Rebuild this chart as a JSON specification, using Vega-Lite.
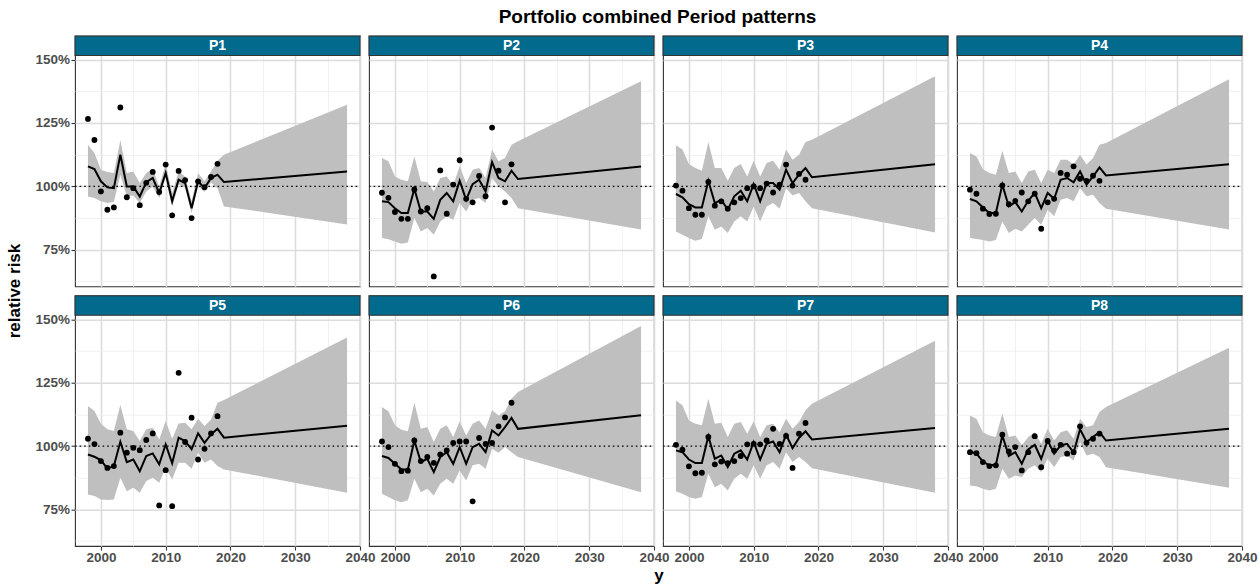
{
  "$schema": "https://vega.github.io/schema/vega-lite/v6.json",
  "background": "white",
  "padding": {"left": 5, "top": 7, "right": 18, "bottom": 0},
  "bounds": "flush",
  "title": {"text": "Portfolio combined Period patterns", "font": "Liberation Sans", "fontSize": 19, "fontWeight": "bold", "color": "black", "anchor": "middle", "offset": 8, "dx": 26},
  "datasets": {
    "rr": [
      {"panel":"P1","year":1998,"fit":107.9,"lower":96.0,"upper":116.4,"observed":126.6},
      {"panel":"P1","year":1999,"fit":106.8,"lower":95.4,"upper":113.2,"observed":118.3},
      {"panel":"P1","year":2000,"fit":102.0,"lower":94.1,"upper":106.6,"observed":98.0},
      {"panel":"P1","year":2001,"fit":99.6,"lower":93.4,"upper":105.7,"observed":90.8},
      {"panel":"P1","year":2002,"fit":99.3,"lower":93.8,"upper":105.3,"observed":91.7},
      {"panel":"P1","year":2003,"fit":112.5,"lower":104.6,"upper":118.2,"observed":131.1},
      {"panel":"P1","year":2004,"fit":100.0,"lower":96.1,"upper":105.3,"observed":95.7},
      {"panel":"P1","year":2005,"fit":100.0,"lower":96.4,"upper":105.9,"observed":99.3},
      {"panel":"P1","year":2006,"fit":96.0,"lower":93.4,"upper":101.3,"observed":92.6},
      {"panel":"P1","year":2007,"fit":101.7,"lower":98.0,"upper":105.3,"observed":101.4},
      {"panel":"P1","year":2008,"fit":103.3,"lower":100.0,"upper":107.0,"observed":105.7},
      {"panel":"P1","year":2009,"fit":97.4,"lower":95.4,"upper":100.0,"observed":97.8},
      {"panel":"P1","year":2010,"fit":105.3,"lower":103.3,"upper":108.8,"observed":108.6},
      {"panel":"P1","year":2011,"fit":94.1,"lower":92.1,"upper":97.4,"observed":88.6},
      {"panel":"P1","year":2012,"fit":102.6,"lower":100.8,"upper":105.9,"observed":106.1},
      {"panel":"P1","year":2013,"fit":101.3,"lower":99.5,"upper":103.9,"observed":102.5},
      {"panel":"P1","year":2014,"fit":91.4,"lower":89.5,"upper":94.1,"observed":87.5},
      {"panel":"P1","year":2015,"fit":102.0,"lower":100.0,"upper":105.3,"observed":102.0},
      {"panel":"P1","year":2016,"fit":99.3,"lower":97.8,"upper":102.0,"observed":99.7},
      {"panel":"P1","year":2017,"fit":103.3,"lower":101.5,"upper":105.9,"observed":103.7},
      {"panel":"P1","year":2018,"fit":104.6,"lower":99.3,"upper":110.1,"observed":108.9},
      {"panel":"P1","year":2019,"fit":101.7,"lower":92.1,"upper":112.5,"observed":null},
      {"panel":"P1","year":2038,"fit":105.9,"lower":85.0,"upper":132.2,"observed":null},

      {"panel":"P2","year":1998,"fit":94.1,"lower":79.6,"upper":111.2,"observed":97.5},
      {"panel":"P2","year":1999,"fit":93.8,"lower":79.2,"upper":109.9,"observed":95.5},
      {"panel":"P2","year":2000,"fit":91.4,"lower":78.3,"upper":103.9,"observed":89.9},
      {"panel":"P2","year":2001,"fit":89.5,"lower":77.4,"upper":102.6,"observed":87.2},
      {"panel":"P2","year":2002,"fit":89.5,"lower":77.9,"upper":102.0,"observed":87.2},
      {"panel":"P2","year":2003,"fit":99.1,"lower":87.5,"upper":111.8,"observed":98.8},
      {"panel":"P2","year":2004,"fit":90.1,"lower":82.2,"upper":102.0,"observed":90.1},
      {"panel":"P2","year":2005,"fit":90.1,"lower":83.6,"upper":101.7,"observed":91.4},
      {"panel":"P2","year":2006,"fit":87.2,"lower":80.9,"upper":98.0,"observed":64.5},
      {"panel":"P2","year":2007,"fit":94.7,"lower":86.2,"upper":103.3,"observed":106.3},
      {"panel":"P2","year":2008,"fit":97.4,"lower":88.2,"upper":103.9,"observed":89.2},
      {"panel":"P2","year":2009,"fit":94.1,"lower":86.8,"upper":100.4,"observed":100.7},
      {"panel":"P2","year":2010,"fit":102.2,"lower":93.4,"upper":107.9,"observed":110.3},
      {"panel":"P2","year":2011,"fit":94.7,"lower":90.1,"upper":101.3,"observed":95.1},
      {"panel":"P2","year":2012,"fit":100.9,"lower":94.7,"upper":106.6,"observed":93.7},
      {"panel":"P2","year":2013,"fit":102.6,"lower":95.4,"upper":107.2,"observed":104.1},
      {"panel":"P2","year":2014,"fit":98.0,"lower":93.4,"upper":103.3,"observed":96.1},
      {"panel":"P2","year":2015,"fit":109.6,"lower":103.3,"upper":114.5,"observed":123.2},
      {"panel":"P2","year":2016,"fit":103.3,"lower":100.0,"upper":109.9,"observed":106.2},
      {"panel":"P2","year":2017,"fit":102.0,"lower":98.0,"upper":111.2,"observed":93.7},
      {"panel":"P2","year":2018,"fit":106.2,"lower":95.4,"upper":116.4,"observed":108.7},
      {"panel":"P2","year":2019,"fit":102.9,"lower":91.4,"upper":117.8,"observed":null},
      {"panel":"P2","year":2038,"fit":107.8,"lower":83.0,"upper":141.5,"observed":null},

      {"panel":"P3","year":1998,"fit":97.0,"lower":82.2,"upper":116.2,"observed":100.3},
      {"panel":"P3","year":1999,"fit":95.7,"lower":80.9,"upper":114.5,"observed":98.3},
      {"panel":"P3","year":2000,"fit":93.0,"lower":79.6,"upper":108.8,"observed":91.4},
      {"panel":"P3","year":2001,"fit":91.7,"lower":78.6,"upper":107.2,"observed":88.8},
      {"panel":"P3","year":2002,"fit":91.7,"lower":79.3,"upper":106.2,"observed":88.8},
      {"panel":"P3","year":2003,"fit":102.2,"lower":88.2,"upper":117.5,"observed":101.8},
      {"panel":"P3","year":2004,"fit":93.4,"lower":82.9,"upper":107.2,"observed":92.4},
      {"panel":"P3","year":2005,"fit":94.7,"lower":84.2,"upper":107.2,"observed":94.1},
      {"panel":"P3","year":2006,"fit":90.8,"lower":81.6,"upper":102.2,"observed":91.2},
      {"panel":"P3","year":2007,"fit":96.1,"lower":86.2,"upper":107.2,"observed":93.7},
      {"panel":"P3","year":2008,"fit":98.3,"lower":88.2,"upper":108.8,"observed":95.4},
      {"panel":"P3","year":2009,"fit":94.1,"lower":86.2,"upper":103.9,"observed":99.3},
      {"panel":"P3","year":2010,"fit":100.9,"lower":92.1,"upper":110.1,"observed":100.0},
      {"panel":"P3","year":2011,"fit":94.1,"lower":86.2,"upper":103.9,"observed":99.3},
      {"panel":"P3","year":2012,"fit":101.3,"lower":92.1,"upper":109.2,"observed":101.1},
      {"panel":"P3","year":2013,"fit":101.3,"lower":93.4,"upper":110.1,"observed":97.6},
      {"panel":"P3","year":2014,"fit":98.7,"lower":91.2,"upper":106.6,"observed":100.7},
      {"panel":"P3","year":2015,"fit":106.6,"lower":99.3,"upper":114.5,"observed":108.6},
      {"panel":"P3","year":2016,"fit":101.3,"lower":96.4,"upper":110.5,"observed":100.3},
      {"panel":"P3","year":2017,"fit":104.6,"lower":97.4,"upper":112.5,"observed":104.9},
      {"panel":"P3","year":2018,"fit":107.2,"lower":94.1,"upper":117.5,"observed":102.6},
      {"panel":"P3","year":2019,"fit":103.6,"lower":91.4,"upper":118.4,"observed":null},
      {"panel":"P3","year":2038,"fit":108.7,"lower":81.8,"upper":143.4,"observed":null},

      {"panel":"P4","year":1998,"fit":95.0,"lower":79.6,"upper":113.2,"observed":98.7},
      {"panel":"P4","year":1999,"fit":94.1,"lower":79.3,"upper":111.8,"observed":97.1},
      {"panel":"P4","year":2000,"fit":91.7,"lower":78.9,"upper":106.8,"observed":91.2},
      {"panel":"P4","year":2001,"fit":89.5,"lower":78.3,"upper":105.3,"observed":89.1},
      {"panel":"P4","year":2002,"fit":89.5,"lower":78.9,"upper":104.6,"observed":89.2},
      {"panel":"P4","year":2003,"fit":100.7,"lower":86.2,"upper":114.1,"observed":100.4},
      {"panel":"P4","year":2004,"fit":92.1,"lower":81.6,"upper":105.3,"observed":93.0},
      {"panel":"P4","year":2005,"fit":93.8,"lower":83.3,"upper":105.9,"observed":94.3},
      {"panel":"P4","year":2006,"fit":90.1,"lower":82.2,"upper":101.3,"observed":97.6},
      {"panel":"P4","year":2007,"fit":94.3,"lower":84.9,"upper":105.9,"observed":94.1},
      {"panel":"P4","year":2008,"fit":97.4,"lower":87.5,"upper":106.6,"observed":97.1},
      {"panel":"P4","year":2009,"fit":91.4,"lower":84.9,"upper":101.3,"observed":83.3},
      {"panel":"P4","year":2010,"fit":97.4,"lower":90.8,"upper":106.6,"observed":93.7},
      {"panel":"P4","year":2011,"fit":95.1,"lower":88.2,"upper":105.3,"observed":95.1},
      {"panel":"P4","year":2012,"fit":102.6,"lower":94.7,"upper":110.5,"observed":105.3},
      {"panel":"P4","year":2013,"fit":103.3,"lower":95.4,"upper":110.5,"observed":104.6},
      {"panel":"P4","year":2014,"fit":101.6,"lower":94.1,"upper":108.6,"observed":107.9},
      {"panel":"P4","year":2015,"fit":105.9,"lower":99.3,"upper":112.5,"observed":103.0},
      {"panel":"P4","year":2016,"fit":100.7,"lower":96.1,"upper":108.6,"observed":102.2},
      {"panel":"P4","year":2017,"fit":103.9,"lower":96.7,"upper":111.2,"observed":104.2},
      {"panel":"P4","year":2018,"fit":107.5,"lower":93.4,"upper":116.4,"observed":102.2},
      {"panel":"P4","year":2019,"fit":104.3,"lower":91.2,"upper":117.1,"observed":null},
      {"panel":"P4","year":2038,"fit":108.7,"lower":83.0,"upper":142.2,"observed":null},

      {"panel":"P5","year":1998,"fit":96.7,"lower":80.9,"upper":115.8,"observed":102.9},
      {"panel":"P5","year":1999,"fit":95.8,"lower":80.3,"upper":113.8,"observed":100.8},
      {"panel":"P5","year":2000,"fit":94.5,"lower":78.9,"upper":108.8,"observed":94.1},
      {"panel":"P5","year":2001,"fit":91.1,"lower":78.7,"upper":106.6,"observed":91.4},
      {"panel":"P5","year":2002,"fit":92.1,"lower":78.9,"upper":105.9,"observed":92.1},
      {"panel":"P5","year":2003,"fit":101.7,"lower":87.5,"upper":116.2,"observed":105.3},
      {"panel":"P5","year":2004,"fit":93.7,"lower":82.2,"upper":106.6,"observed":97.4},
      {"panel":"P5","year":2005,"fit":94.7,"lower":83.6,"upper":105.9,"observed":99.3},
      {"panel":"P5","year":2006,"fit":90.1,"lower":81.6,"upper":102.0,"observed":98.4},
      {"panel":"P5","year":2007,"fit":96.1,"lower":86.2,"upper":106.6,"observed":102.4},
      {"panel":"P5","year":2008,"fit":97.1,"lower":87.5,"upper":107.2,"observed":105.0},
      {"panel":"P5","year":2009,"fit":92.8,"lower":85.5,"upper":102.6,"observed":76.6},
      {"panel":"P5","year":2010,"fit":100.7,"lower":91.4,"upper":109.9,"observed":90.5},
      {"panel":"P5","year":2011,"fit":93.2,"lower":86.8,"upper":102.9,"observed":76.3},
      {"panel":"P5","year":2012,"fit":103.3,"lower":93.4,"upper":108.9,"observed":128.9},
      {"panel":"P5","year":2013,"fit":102.0,"lower":93.4,"upper":109.2,"observed":101.6},
      {"panel":"P5","year":2014,"fit":98.7,"lower":91.1,"upper":106.6,"observed":111.2},
      {"panel":"P5","year":2015,"fit":105.0,"lower":97.4,"upper":110.8,"observed":94.7},
      {"panel":"P5","year":2016,"fit":101.3,"lower":93.4,"upper":107.9,"observed":98.9},
      {"panel":"P5","year":2017,"fit":104.6,"lower":94.7,"upper":110.5,"observed":105.0},
      {"panel":"P5","year":2018,"fit":106.8,"lower":92.1,"upper":117.1,"observed":111.8},
      {"panel":"P5","year":2019,"fit":103.3,"lower":90.8,"upper":118.2,"observed":null},
      {"panel":"P5","year":2038,"fit":108.0,"lower":81.6,"upper":142.8,"observed":null},

      {"panel":"P6","year":1998,"fit":96.1,"lower":81.2,"upper":115.4,"observed":101.8},
      {"panel":"P6","year":1999,"fit":95.3,"lower":79.9,"upper":113.7,"observed":99.6},
      {"panel":"P6","year":2000,"fit":93.0,"lower":78.6,"upper":108.2,"observed":93.0},
      {"panel":"P6","year":2001,"fit":90.8,"lower":77.9,"upper":106.4,"observed":90.1},
      {"panel":"P6","year":2002,"fit":90.8,"lower":78.6,"upper":105.8,"observed":90.3},
      {"panel":"P6","year":2003,"fit":102.2,"lower":87.1,"upper":117.1,"observed":102.2},
      {"panel":"P6","year":2004,"fit":93.7,"lower":81.8,"upper":106.8,"observed":94.1},
      {"panel":"P6","year":2005,"fit":95.0,"lower":83.2,"upper":107.5,"observed":95.7},
      {"panel":"P6","year":2006,"fit":89.7,"lower":80.5,"upper":101.6,"observed":93.4},
      {"panel":"P6","year":2007,"fit":95.7,"lower":85.1,"upper":106.8,"observed":96.7},
      {"panel":"P6","year":2008,"fit":97.6,"lower":87.1,"upper":108.2,"observed":98.3},
      {"panel":"P6","year":2009,"fit":93.0,"lower":85.1,"upper":103.6,"observed":101.2},
      {"panel":"P6","year":2010,"fit":99.6,"lower":90.4,"upper":109.7,"observed":101.8},
      {"panel":"P6","year":2011,"fit":93.0,"lower":86.4,"upper":104.2,"observed":101.8},
      {"panel":"P6","year":2012,"fit":99.6,"lower":92.4,"upper":108.8,"observed":78.2},
      {"panel":"P6","year":2013,"fit":100.9,"lower":93.0,"upper":110.1,"observed":103.2},
      {"panel":"P6","year":2014,"fit":97.6,"lower":91.1,"upper":106.8,"observed":100.9},
      {"panel":"P6","year":2015,"fit":106.2,"lower":98.9,"upper":114.1,"observed":101.2},
      {"panel":"P6","year":2016,"fit":104.2,"lower":97.4,"upper":112.1,"observed":107.8},
      {"panel":"P6","year":2017,"fit":107.5,"lower":99.6,"upper":113.7,"observed":111.3},
      {"panel":"P6","year":2018,"fit":111.1,"lower":97.6,"upper":118.7,"observed":117.1},
      {"panel":"P6","year":2019,"fit":106.8,"lower":95.7,"upper":121.3,"observed":null},
      {"panel":"P6","year":2038,"fit":112.2,"lower":81.8,"upper":147.4,"observed":null},

      {"panel":"P7","year":1998,"fit":98.3,"lower":82.1,"upper":118.0,"observed":100.5},
      {"panel":"P7","year":1999,"fit":97.6,"lower":81.2,"upper":116.1,"observed":98.6},
      {"panel":"P7","year":2000,"fit":94.7,"lower":79.9,"upper":110.1,"observed":92.0},
      {"panel":"P7","year":2001,"fit":93.3,"lower":79.2,"upper":108.8,"observed":89.3},
      {"panel":"P7","year":2002,"fit":93.3,"lower":79.9,"upper":108.2,"observed":89.5},
      {"panel":"P7","year":2003,"fit":103.9,"lower":89.1,"upper":118.7,"observed":103.6},
      {"panel":"P7","year":2004,"fit":95.0,"lower":83.8,"upper":108.8,"observed":92.8},
      {"panel":"P7","year":2005,"fit":96.3,"lower":85.1,"upper":109.2,"observed":93.9},
      {"panel":"P7","year":2006,"fit":91.7,"lower":82.5,"upper":103.6,"observed":93.3},
      {"panel":"P7","year":2007,"fit":97.0,"lower":87.1,"upper":108.8,"observed":94.1},
      {"panel":"P7","year":2008,"fit":98.3,"lower":89.1,"upper":109.5,"observed":96.1},
      {"panel":"P7","year":2009,"fit":94.7,"lower":87.1,"upper":104.9,"observed":100.7},
      {"panel":"P7","year":2010,"fit":101.6,"lower":92.4,"upper":109.7,"observed":100.9},
      {"panel":"P7","year":2011,"fit":94.7,"lower":87.1,"upper":103.6,"observed":100.7},
      {"panel":"P7","year":2012,"fit":100.9,"lower":92.4,"upper":108.2,"observed":102.2},
      {"panel":"P7","year":2013,"fit":101.8,"lower":93.7,"upper":108.8,"observed":106.8},
      {"panel":"P7","year":2014,"fit":97.6,"lower":91.1,"upper":105.5,"observed":100.9},
      {"panel":"P7","year":2015,"fit":104.5,"lower":97.6,"upper":110.8,"observed":104.0},
      {"panel":"P7","year":2016,"fit":99.2,"lower":93.7,"upper":106.8,"observed":91.4},
      {"panel":"P7","year":2017,"fit":103.2,"lower":95.7,"upper":109.5,"observed":104.9},
      {"panel":"P7","year":2018,"fit":105.8,"lower":93.7,"upper":114.1,"observed":109.1},
      {"panel":"P7","year":2019,"fit":102.6,"lower":91.3,"upper":116.7,"observed":null},
      {"panel":"P7","year":2038,"fit":107.1,"lower":81.6,"upper":141.5,"observed":null},

      {"panel":"P8","year":1998,"fit":97.9,"lower":84.5,"upper":112.1,"observed":97.6},
      {"panel":"P8","year":1999,"fit":97.0,"lower":84.2,"upper":110.8,"observed":97.2},
      {"panel":"P8","year":2000,"fit":93.9,"lower":83.2,"upper":105.5,"observed":93.7},
      {"panel":"P8","year":2001,"fit":92.4,"lower":82.5,"upper":104.2,"observed":92.1},
      {"panel":"P8","year":2002,"fit":92.6,"lower":83.2,"upper":103.6,"observed":92.4},
      {"panel":"P8","year":2003,"fit":104.2,"lower":91.1,"upper":112.8,"observed":104.5},
      {"panel":"P8","year":2004,"fit":96.1,"lower":87.1,"upper":103.6,"observed":97.9},
      {"panel":"P8","year":2005,"fit":97.6,"lower":88.4,"upper":104.2,"observed":99.6},
      {"panel":"P8","year":2006,"fit":93.0,"lower":87.8,"upper":100.3,"observed":90.4},
      {"panel":"P8","year":2007,"fit":98.7,"lower":91.1,"upper":103.6,"observed":97.6},
      {"panel":"P8","year":2008,"fit":100.5,"lower":92.4,"upper":105.5,"observed":103.9},
      {"panel":"P8","year":2009,"fit":95.0,"lower":89.7,"upper":100.9,"observed":91.7},
      {"panel":"P8","year":2010,"fit":102.2,"lower":95.0,"upper":106.8,"observed":102.0},
      {"panel":"P8","year":2011,"fit":97.0,"lower":91.7,"upper":102.2,"observed":98.3},
      {"panel":"P8","year":2012,"fit":100.3,"lower":95.7,"upper":105.5,"observed":100.5},
      {"panel":"P8","year":2013,"fit":100.9,"lower":96.3,"upper":106.2,"observed":97.0},
      {"panel":"P8","year":2014,"fit":97.4,"lower":94.3,"upper":102.9,"observed":97.6},
      {"panel":"P8","year":2015,"fit":106.6,"lower":101.6,"upper":110.8,"observed":107.8},
      {"panel":"P8","year":2016,"fit":101.6,"lower":96.3,"upper":107.5,"observed":101.3},
      {"panel":"P8","year":2017,"fit":103.6,"lower":97.0,"upper":108.2,"observed":102.9},
      {"panel":"P8","year":2018,"fit":105.5,"lower":95.7,"upper":113.4,"observed":104.9},
      {"panel":"P8","year":2019,"fit":102.2,"lower":91.7,"upper":115.4,"observed":null},
      {"panel":"P8","year":2038,"fit":106.8,"lower":83.6,"upper":138.8,"observed":null}
    ]
  },
  "data": {"name": "rr"},
  "transform": [
    {"calculate": "toNumber(slice(datum.panel, 1))", "as": "k"},
    {"calculate": "datum.k <= 4 ? 1 : 2", "as": "facetRow"},
    {"calculate": "(datum.k - 1) % 4", "as": "facetCol"}
  ],
  "facet": {
    "row": {"field": "facetRow", "type": "ordinal", "header": {"title": "relative risk", "labels": false, "titleFont": "Liberation Sans", "titleFontSize": 17, "titleFontWeight": "bold", "titleColor": "black", "titlePadding": 0}},
    "column": {"field": "facetCol", "type": "ordinal", "header": {"title": "y", "titleOrient": "bottom", "labels": false, "titleFont": "Liberation Sans", "titleFontSize": 17, "titleFontWeight": "bold", "titleColor": "black", "titlePadding": -6}}
  },
  "spacing": {"row": 8.7, "column": 9},
  "spec": {
    "width": 285,
    "height": 250.3,
    "encoding": {
      "x": {"field": "year", "type": "quantitative", "title": null, "scale": {"domain": [1996, 2040], "nice": false, "zero": false},
        "axis": {"values": [2000, 2005, 2010, 2015, 2020, 2025, 2030, 2035, 2040], "format": "d",
          "labelExpr": "datum.value % 10 === 0 ? datum.label : ''",
          "gridColor": {"condition": {"test": "datum.value % 10 === 0", "value": "#dcdcdc"}, "value": "#eeeeee"},
          "gridWidth": {"condition": {"test": "datum.value % 10 === 0", "value": 1.6}, "value": 0.8},
          "tickOpacity": {"condition": {"test": "datum.value % 10 === 0", "value": 1}, "value": 0},
          "labelPadding": 0,
          "title": null}}
    },
    "layer": [
      {
        "mark": {"type": "area", "color": "#bfbfbf", "opacity": 1},
        "encoding": {
          "y": {"field": "lower", "type": "quantitative", "title": null, "scale": {"domain": [60.6, 159.3], "nice": false, "zero": false},
            "axis": {"values": [62.5, 75, 87.5, 100, 112.5, 125, 137.5, 150],
              "labelExpr": "datum.value % 25 === 0 ? datum.value + '%' : ''",
              "gridColor": {"condition": {"test": "datum.value % 25 === 0", "value": "#dcdcdc"}, "value": "#eeeeee"},
              "gridWidth": {"condition": {"test": "datum.value % 25 === 0", "value": 1.6}, "value": 0.8},
              "tickOpacity": {"condition": {"test": "datum.value % 25 === 0", "value": 1}, "value": 0},
              "title": null}},
          "y2": {"field": "upper"}
        }
      },
      {
        "transform": [{"filter": "datum.year === 1998"}],
        "mark": {"type": "rule", "color": "black", "strokeWidth": 1.4, "strokeDash": [1.6, 3]},
        "encoding": {
          "x": {"datum": 1996, "type": "quantitative", "title": null,
            "axis": {"values": [2000, 2005, 2010, 2015, 2020, 2025, 2030, 2035, 2040], "format": "d",
              "labelExpr": "datum.value % 10 === 0 ? datum.label : ''",
              "gridColor": {"condition": {"test": "datum.value % 10 === 0", "value": "#dcdcdc"}, "value": "#eeeeee"},
              "gridWidth": {"condition": {"test": "datum.value % 10 === 0", "value": 1.6}, "value": 0.8},
              "tickOpacity": {"condition": {"test": "datum.value % 10 === 0", "value": 1}, "value": 0},
              "labelPadding": 0,
              "title": null}},
          "x2": {"datum": 2040},
          "y": {"datum": 100, "type": "quantitative", "title": null,
            "axis": {"values": [62.5, 75, 87.5, 100, 112.5, 125, 137.5, 150],
              "labelExpr": "datum.value % 25 === 0 ? datum.value + '%' : ''",
              "gridColor": {"condition": {"test": "datum.value % 25 === 0", "value": "#dcdcdc"}, "value": "#eeeeee"},
              "gridWidth": {"condition": {"test": "datum.value % 25 === 0", "value": 1.6}, "value": 0.8},
              "tickOpacity": {"condition": {"test": "datum.value % 25 === 0", "value": 1}, "value": 0},
              "title": null}}
        }
      },
      {
        "mark": {"type": "line", "color": "black", "strokeWidth": 2},
        "encoding": {
          "y": {"field": "fit", "type": "quantitative", "title": null,
            "axis": {"values": [62.5, 75, 87.5, 100, 112.5, 125, 137.5, 150],
              "labelExpr": "datum.value % 25 === 0 ? datum.value + '%' : ''",
              "gridColor": {"condition": {"test": "datum.value % 25 === 0", "value": "#dcdcdc"}, "value": "#eeeeee"},
              "gridWidth": {"condition": {"test": "datum.value % 25 === 0", "value": 1.6}, "value": 0.8},
              "tickOpacity": {"condition": {"test": "datum.value % 25 === 0", "value": 1}, "value": 0},
              "title": null}}
        }
      },
      {
        "mark": {"type": "point", "filled": true, "color": "black", "opacity": 1, "size": 34},
        "encoding": {
          "y": {"field": "observed", "type": "quantitative", "title": null,
            "axis": {"values": [62.5, 75, 87.5, 100, 112.5, 125, 137.5, 150],
              "labelExpr": "datum.value % 25 === 0 ? datum.value + '%' : ''",
              "gridColor": {"condition": {"test": "datum.value % 25 === 0", "value": "#dcdcdc"}, "value": "#eeeeee"},
              "gridWidth": {"condition": {"test": "datum.value % 25 === 0", "value": 1.6}, "value": 0.8},
              "tickOpacity": {"condition": {"test": "datum.value % 25 === 0", "value": 1}, "value": 0},
              "title": null}}
        }
      },
      {
        "transform": [{"filter": "datum.year === 1998"}],
        "mark": {"type": "rect", "fill": "#026a8c", "stroke": "#333333", "strokeWidth": 1.1},
        "encoding": {
          "x": {"datum": 1996, "type": "quantitative", "title": null,
            "axis": {"values": [2000, 2005, 2010, 2015, 2020, 2025, 2030, 2035, 2040], "format": "d",
              "labelExpr": "datum.value % 10 === 0 ? datum.label : ''",
              "gridColor": {"condition": {"test": "datum.value % 10 === 0", "value": "#dcdcdc"}, "value": "#eeeeee"},
              "gridWidth": {"condition": {"test": "datum.value % 10 === 0", "value": 1.6}, "value": 0.8},
              "tickOpacity": {"condition": {"test": "datum.value % 10 === 0", "value": 1}, "value": 0},
              "labelPadding": 0,
              "title": null}},
          "x2": {"datum": 2040},
          "y": {"datum": 151.6, "type": "quantitative", "title": null,
            "axis": {"values": [62.5, 75, 87.5, 100, 112.5, 125, 137.5, 150],
              "labelExpr": "datum.value % 25 === 0 ? datum.value + '%' : ''",
              "gridColor": {"condition": {"test": "datum.value % 25 === 0", "value": "#dcdcdc"}, "value": "#eeeeee"},
              "gridWidth": {"condition": {"test": "datum.value % 25 === 0", "value": 1.6}, "value": 0.8},
              "tickOpacity": {"condition": {"test": "datum.value % 25 === 0", "value": 1}, "value": 0},
              "title": null}},
          "y2": {"datum": 159.3}
        }
      },
      {
        "transform": [{"filter": "datum.year === 1998"}],
        "mark": {"type": "text", "color": "white", "font": "Liberation Sans", "fontSize": 14, "fontWeight": "bold", "baseline": "middle", "align": "center"},
        "encoding": {
          "x": {"datum": 2018, "type": "quantitative", "title": null,
            "axis": {"values": [2000, 2005, 2010, 2015, 2020, 2025, 2030, 2035, 2040], "format": "d",
              "labelExpr": "datum.value % 10 === 0 ? datum.label : ''",
              "gridColor": {"condition": {"test": "datum.value % 10 === 0", "value": "#dcdcdc"}, "value": "#eeeeee"},
              "gridWidth": {"condition": {"test": "datum.value % 10 === 0", "value": 1.6}, "value": 0.8},
              "tickOpacity": {"condition": {"test": "datum.value % 10 === 0", "value": 1}, "value": 0},
              "labelPadding": 0,
              "title": null}},
          "y": {"datum": 155.3, "type": "quantitative", "title": null,
            "axis": {"values": [62.5, 75, 87.5, 100, 112.5, 125, 137.5, 150],
              "labelExpr": "datum.value % 25 === 0 ? datum.value + '%' : ''",
              "gridColor": {"condition": {"test": "datum.value % 25 === 0", "value": "#dcdcdc"}, "value": "#eeeeee"},
              "gridWidth": {"condition": {"test": "datum.value % 25 === 0", "value": 1.6}, "value": 0.8},
              "tickOpacity": {"condition": {"test": "datum.value % 25 === 0", "value": 1}, "value": 0},
              "title": null}},
          "text": {"field": "panel"}
        }
      }
    ]
  },
  "config": {
    "view": {"stroke": "#333333", "strokeWidth": 1.1},
    "font": "Liberation Sans",
    "axis": {"tickColor": "#333333", "tickSize": 4, "tickWidth": 1.1, "domain": false,
      "labelFont": "Liberation Sans", "labelFontSize": 13.5, "labelFontWeight": "bold", "labelColor": "#4d4d4d", "labelPadding": 1.5, "labelFlush": false, "labelOverlap": false}
  }
}
